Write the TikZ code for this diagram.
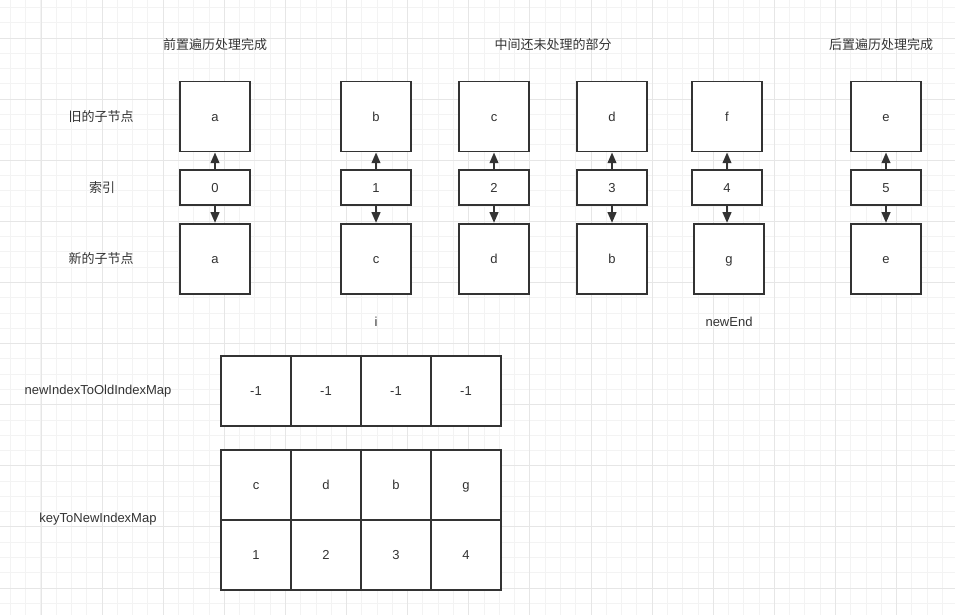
\documentclass[tikz,border=0pt]{standalone}
\usepackage{fontspec}
\setmainfont{Liberation Sans}
\newfontfamily\cjk{Noto Sans CJK SC}
\usetikzlibrary{arrows.meta}
\definecolor{gridminor}{RGB}{243,243,243}
\definecolor{gridmajor}{RGB}{230,230,230}
\definecolor{ink}{RGB}{51,51,51}

\begin{document}
\begin{tikzpicture}[x=0.75pt,y=-0.75pt,
    every node/.style={font=\fontsize{9.75pt}{11pt}\selectfont,text=ink},
    box/.style={draw=ink,line width=1.4pt,fill=white,minimum width=52.5pt,minimum height=52.5pt,inner sep=0pt,text height=7pt,text depth=0pt},
    idx/.style={box,minimum height=26.25pt},
    arr/.style={draw=ink,line width=1.4pt,-{Triangle[length=8pt,width=6.5pt]}}]
    \fill[white](0,0)rectangle(955,615);
    \useasboundingbox(0,0)rectangle(955,615);

    % grid
    \foreach \i in {0,...,61}
      \draw[gridminor,line width=0.75pt]({10.4+15.28*\i},0)--({10.4+15.28*\i},615);
    \foreach \j in {0,...,39}
      \draw[gridminor,line width=0.75pt](0,{7.44+15.28*\j})--(955,{7.44+15.28*\j});
    \foreach \i in {0,...,14}
      \draw[gridmajor,line width=0.75pt]({41+61.12*\i},0)--({41+61.12*\i},615);
    \foreach \j in {0,...,9}
      \draw[gridmajor,line width=0.75pt](0,{38+61.12*\j})--(955,{38+61.12*\j});

    % titles
    \node(pre)at(215,45){\cjk 前置遍历处理完成};
    \node(mid)at(553,45){\cjk 中间还未处理的部分};
    \node(post)at(881,45){\cjk 后置遍历处理完成};
    \node(oldlbl)at(101,116.5){\cjk 旧的子节点};
    \node(idxlbl)at(102,187.5){\cjk 索引};
    \node(newlbl)at(101,258.5){\cjk 新的子节点};

    % old children
    \node[box](oa)at(215,116.5){a};
    \node[box](ob)at(376,116.5){b};
    \node[box](oc)at(494,116.5){c};
    \node[box](od)at(612,116.5){d};
    \node[box](of)at(727,116.5){f};
    \node[box](oe)at(886,116.5){e};
    % index
    \node[idx](i0)at(215,187.5){0};
    \node[idx](i1)at(376,187.5){1};
    \node[idx](i2)at(494,187.5){2};
    \node[idx](i3)at(612,187.5){3};
    \node[idx](i4)at(727,187.5){4};
    \node[idx](i5)at(886,187.5){5};
    % new children
    \node[box](na)at(215,258.8){a};
    \node[box](nc)at(376,258.8){c};
    \node[box](nd)at(494,258.8){d};
    \node[box](nb)at(612,258.8){b};
    \node[box](ng)at(729,258.8){g};
    \node[box](ne)at(886,258.8){e};

    \draw[arr](i0)--(oa); \draw[arr](i0)--(na);
    \draw[arr](i1)--(ob); \draw[arr](i1)--(nc);
    \draw[arr](i2)--(oc); \draw[arr](i2)--(nd);
    \draw[arr](i3)--(od); \draw[arr](i3)--(nb);
    \draw[arr](i4)--(of); \draw[arr](i4.south)--(i4.south|-ng.north);
    \draw[arr](i5)--(oe); \draw[arr](i5)--(ne);

    \node(ptri)at(376,322){i};
    \node(ptrend)at(729,322){newEnd};

    % newIndexToOldIndexMap
    \node(maplbl)at(98,391){newIndexToOldIndexMap};
    \node[box](m1)at(256,391){-1};
    \node[box](m2)at(326,391){-1};
    \node[box](m3)at(396,391){-1};
    \node[box](m4)at(466,391){-1};

    % keyToNewIndexMap
    \node(keylbl)at(98,519){keyToNewIndexMap};
    \node[box](k1)at(256,485){c};
    \node[box](k2)at(326,485){d};
    \node[box](k3)at(396,485){b};
    \node[box](k4)at(466,485){g};
    \node[box](v1)at(256,555){1};
    \node[box](v2)at(326,555){2};
    \node[box](v3)at(396,555){3};
    \node[box](v4)at(466,555){4};
  \end{tikzpicture}
\end{document}
